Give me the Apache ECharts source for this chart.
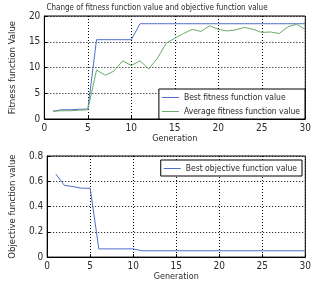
<!DOCTYPE html>
<html>
<head>
<meta charset="utf-8">
<script src="https://cdn.jsdelivr.net/npm/echarts@6/dist/echarts.min.js"></script>
<style>
  html, body { margin: 0; padding: 0; background: #fff; }
  #chart { width: 314px; height: 282px; }
</style>
</head>
<body>
<div id="chart"></div>
<script>
const generations = [1,2,3,4,5,6,7,8,9,10,11,12,13,14,15,16,17,18,19,20,21,22,23,24,25,26,27,28,29,30];
const bestFitness = [1.5,1.8,1.8,1.9,1.9,15.4,15.4,15.4,15.4,15.4,18.5,18.5,18.5,18.5,18.5,18.5,18.5,18.5,18.5,18.5,18.5,18.5,18.5,18.5,18.5,18.5,18.5,18.5,18.5,18.5];
const avgFitness = [1.5,1.6,1.6,1.7,1.8,9.5,8.5,9.3,11.3,10.4,11.3,9.7,11.8,14.7,15.7,16.6,17.4,17.0,18.1,17.4,17.1,17.3,17.8,17.4,16.8,16.9,16.6,17.9,18.4,17.4];
const bestObjective = [0.657,0.568,0.558,0.545,0.545,0.065,0.065,0.065,0.065,0.065,0.05,0.05,0.05,0.05,0.05,0.05,0.05,0.05,0.05,0.05,0.05,0.05,0.05,0.05,0.05,0.05,0.05,0.05,0.05,0.05];

const pairs = vals => generations.map((g, i) => [g, vals[i]]);
const font = '"Liberation Sans Narrow", "DejaVu Sans Condensed", "Liberation Sans", sans-serif';
const textColor = '#2a2a2a';
const blue = '#4f6fc8';
const green = '#6aaa6a';

const chart = echarts.init(document.getElementById('chart'));

function xAxisFor(gridIndex) {
    return {
        type: 'value', gridIndex, min: 0, max: 30, interval: 5,
        name: 'Generation', nameLocation: 'middle', nameGap: 13,
        nameTextStyle: { fontFamily: font, fontSize: 9, color: textColor },
        axisLine: { lineStyle: { color: '#000', width: 1 } },
        axisTick: { inside: true, length: 3, lineStyle: { color: '#000' } },
        axisLabel: { fontFamily: font, fontSize: 10, color: textColor, margin: 4 },
        splitLine: { show: true, lineStyle: { color: '#000', type: [1, 2], width: 1 } }
    };
}

function yAxisFor(gridIndex, max, interval, name, gap) {
    return {
        type: 'value', gridIndex, min: 0, max, interval,
        name, nameLocation: 'middle', nameGap: gap,
        nameTextStyle: { fontFamily: font, fontSize: 9.5, color: textColor },
        axisLine: { show: true, lineStyle: { color: '#000', width: 1 } },
        axisTick: { show: true, inside: true, length: 3, lineStyle: { color: '#000' } },
        axisLabel: { fontFamily: font, fontSize: 10, color: textColor, margin: 4 },
        splitLine: { show: true, lineStyle: { color: '#000', type: [1, 2], width: 1 } }
    };
}

const legendBase = {
    orient: 'vertical',
    backgroundColor: '#fff',
    borderColor: '#000',
    borderWidth: 1,
    borderRadius: 0,
    padding: [4, 5, 3, 3],
    itemGap: 5,
    itemWidth: 17,
    itemHeight: 1,
    icon: 'rect',
    textStyle: { fontFamily: font, fontSize: 8.5, color: textColor }
};

chart.setOption({
    animation: false,
    title: {
        text: 'Change of fitness function value and objective function value',
        left: 'center', top: -1,
        textStyle: { fontFamily: font, fontSize: 8, fontWeight: 'normal', color: textColor }
    },
    grid: [
        { left: 29.5, right: 8.5, top: 16, height: 103, show: true, borderColor: '#000', borderWidth: 1, backgroundColor: '#fff' },
        { left: 29.5, right: 8.5, top: 156, height: 102, show: true, borderColor: '#000', borderWidth: 1, backgroundColor: '#fff' }
    ],
    legend: [
        Object.assign({}, legendBase, { data: ['Best fitness function value', 'Average fitness function value'], right: 9, top: 89 }),
        Object.assign({}, legendBase, { data: ['Best objective function value'], right: 12, top: 160 })
    ],
    xAxis: [xAxisFor(0), xAxisFor(1)],
    yAxis: [
        yAxisFor(0, 20, 5, 'Fitness function Value', 18),
        yAxisFor(1, 0.8, 0.2, 'Objective function value', 21)
    ],
    series: [
        { name: 'Best fitness function value', type: 'line', xAxisIndex: 0, yAxisIndex: 0, symbol: 'none',
          lineStyle: { color: blue, width: 1 }, itemStyle: { color: blue }, data: pairs(bestFitness) },
        { name: 'Average fitness function value', type: 'line', xAxisIndex: 0, yAxisIndex: 0, symbol: 'none',
          lineStyle: { color: green, width: 1 }, itemStyle: { color: green }, data: pairs(avgFitness) },
        { name: 'Best objective function value', type: 'line', xAxisIndex: 1, yAxisIndex: 1, symbol: 'none',
          lineStyle: { color: blue, width: 1 }, itemStyle: { color: blue }, data: pairs(bestObjective) }
    ]
});
</script>
</body>
</html>
